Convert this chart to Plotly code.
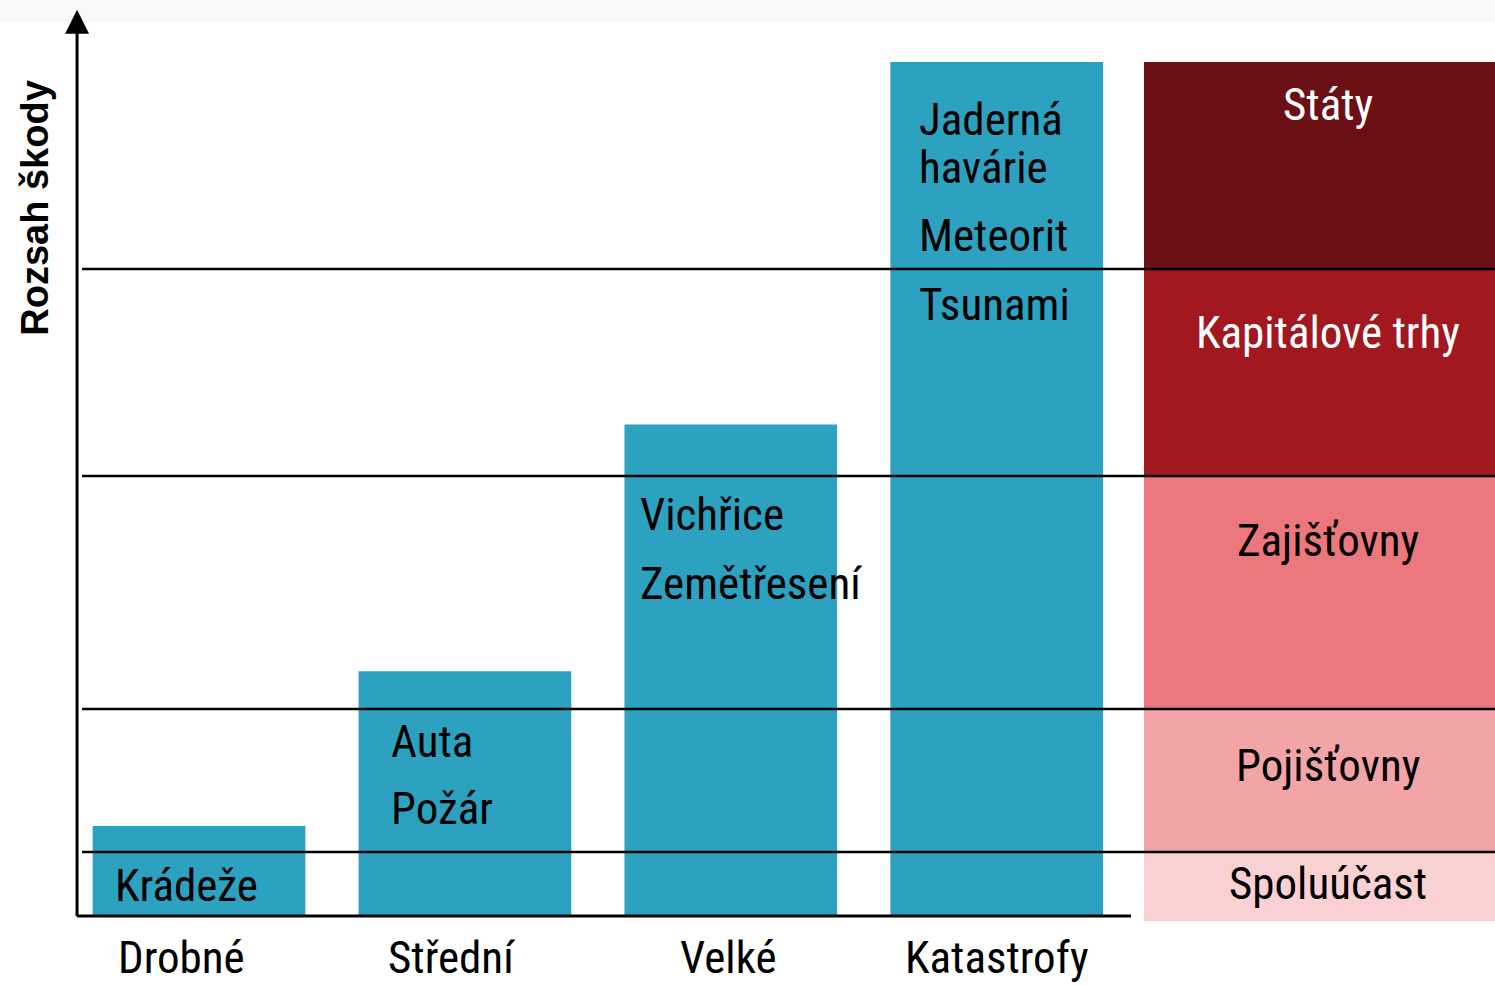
import plotly.graph_objects as go

# ---- data ----
categories = ["Drobné", "Střední", "Velké", "Katastrofy"]
damage_extent = [10.0, 27.2, 54.6, 94.9]
bar_labels = [["Krádeže"], ["Auta", "Požár"], ["Vichřice", "Zemětřesení"],
              ["Jaderná", "havárie", "Meteorit", "Tsunami"]]
bar_label_y = [[3.4], [19.4, 11.9], [44.6, 37.0], [88.5, 83.2, 75.6, 67.9]]

tiers = ["Spoluúčast", "Pojišťovny", "Zajišťovny", "Kapitálové trhy", "Státy"]
tier_low = [-0.55, 7.1, 23.0, 48.9, 71.9]
tier_high = [7.1, 23.0, 48.9, 71.9, 94.9]
tier_colors = ["#F9D1D3", "#F2A4A6", "#EC777C", "#A1181F", "#6B1116"]
tier_text_colors = ["black", "black", "black", "white", "white"]
tier_label_y = [3.6, 16.7, 41.7, 64.8, 90.2]
thresholds = [7.1, 23.0, 48.9, 71.9]

FONT = "Liberation Sans Narrow, Arial Narrow, Roboto Condensed, Liberation Sans, sans-serif"
TEAL = "#2CA2C0"
tier_x = 4.214
tier_w = 1.32
cat_label_shift = [-18, -13, -2, 0]
bar_label_shift = [20, 30, 14, 27]

fig = go.Figure()
fig.add_trace(go.Bar(x=list(range(len(categories))), y=damage_extent, width=0.8,
                     marker=dict(color=TEAL, line=dict(width=0)), hoverinfo="skip"))
fig.add_trace(go.Bar(x=[tier_x] * len(tiers),
                     y=[h - l for l, h in zip(tier_low, tier_high)],
                     base=tier_low, width=tier_w,
                     marker=dict(color=tier_colors, line=dict(width=0)), hoverinfo="skip"))

ann = []
for i, (labs, ys) in enumerate(zip(bar_labels, bar_label_y)):
    for t, yv in zip(labs, ys):
        ann.append(dict(x=i - 0.4, y=yv, xref="x", yref="y", text=t, showarrow=False,
                        xanchor="left", yanchor="middle", xshift=bar_label_shift[i],
                        font=dict(family=FONT, size=45, color="black")))
for t, yv, c in zip(tiers, tier_label_y, tier_text_colors):
    ann.append(dict(x=tier_x, y=yv, xref="x", yref="y", text=t, showarrow=False,
                    xanchor="center", yanchor="middle", xshift=8,
                    font=dict(family=FONT, size=45, color=c)))
for i, t in enumerate(categories):
    ann.append(dict(x=i, y=0, xref="x", yref="paper", text=t, showarrow=False,
                    xanchor="center", yanchor="top", xshift=cat_label_shift[i], yshift=-4,
                    font=dict(family=FONT, size=45, color="black")))
# y-axis title
ann.append(dict(x=0, y=78.7, xref="paper", yref="y", text="<b>Rozsah škody</b>",
                showarrow=False, textangle=-90, xanchor="center", yanchor="middle",
                xshift=-25, font=dict(family="Liberation Sans, Arial, sans-serif", size=38, color="black")))
# y-axis arrow
ann.append(dict(x=-0.4586, y=100.7, xref="x", yref="y", ax=-0.4586, ay=-0.2,
                axref="x", ayref="y", text="", showarrow=True, arrowhead=2,
                arrowsize=1.6, arrowwidth=3, arrowcolor="black"))

shapes = [dict(type="rect", xref="paper", yref="paper", x0=-0.06, x1=1.01, y0=0.985, y1=1.02,
               fillcolor="#F8F9FB", line=dict(width=0), layer="below"),
          dict(type="line", xref="x", yref="y", x0=-0.4586, x1=3.505, y0=0, y1=0,
               line=dict(color="black", width=3), layer="above")]
for yv in thresholds:
    shapes.append(dict(type="line", xref="x", yref="y", x0=-0.44, x1=4.874, y0=yv, y1=yv,
                       line=dict(color="black", width=2.5), layer="above"))

fig.update_layout(
    width=1495, height=985, barmode="overlay", showlegend=False,
    paper_bgcolor="white", plot_bgcolor="white",
    margin=dict(l=60, r=0, t=8, b=60),
    xaxis=dict(range=[-0.5228, 4.874], showgrid=False, zeroline=False, showline=False,
               showticklabels=False, ticks=""),
    yaxis=dict(range=[-1.0, 100.89], showgrid=False, zeroline=False, showline=False,
               showticklabels=False, ticks=""),
    annotations=ann, shapes=shapes,
)
fig.write_html("out.html", config={"displayModeBar": False},
               post_script="document.body.style.margin='0';document.body.style.overflow='hidden';")
